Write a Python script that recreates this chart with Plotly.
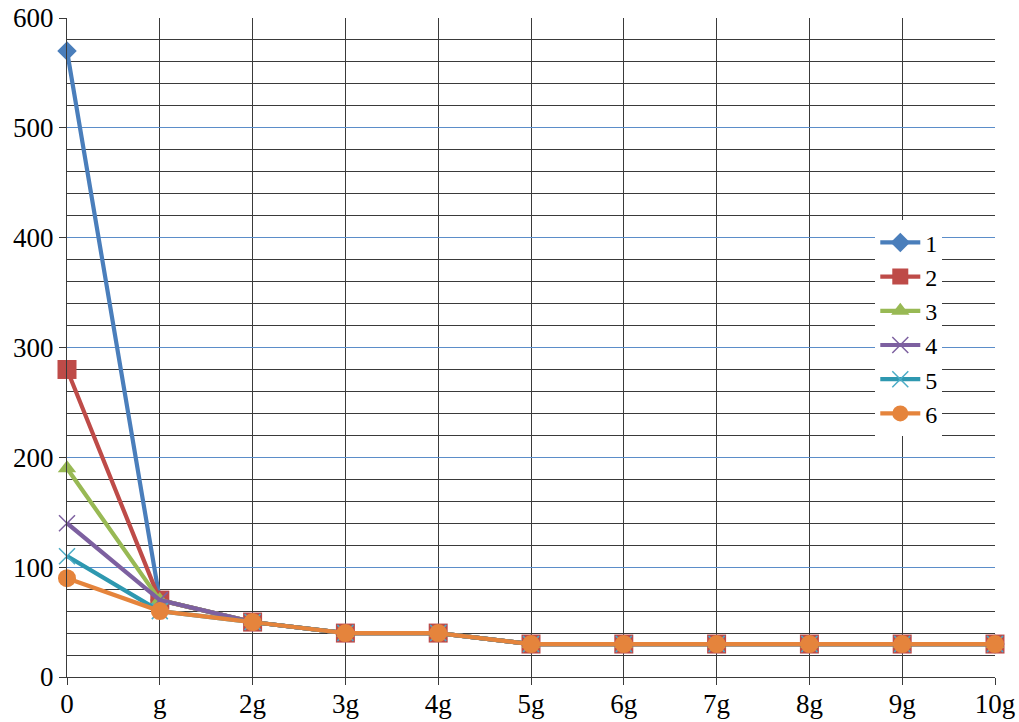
import plotly.graph_objects as go

# Category labels along the x axis
categories = ["0", "g", "2g", "3g", "4g", "5g", "6g", "7g", "8g", "9g", "10g"]

# Series values
s1 = [570, 70, 50, 40, 40, 30, 30, 30, 30, 30, 30]
s2 = [280, 70, 50, 40, 40, 30, 30, 30, 30, 30, 30]
s3 = [190, 70, 50, 40, 40, 30, 30, 30, 30, 30, 30]
s4 = [140, 70, 50, 40, 40, 30, 30, 30, 30, 30, 30]
s5 = [110, 60, 50, 40, 40, 30, 30, 30, 30, 30, 30]
s6 = [90, 60, 50, 40, 40, 30, 30, 30, 30, 30, 30]

series_names = ["1", "2", "3", "4", "5", "6"]
series_values = [s1, s2, s3, s4, s5, s6]

line_colors = ["#4A7EBB", "#BE4B48", "#98B954", "#7D60A0", "#2E98B0", "#E5843C"]
marker_colors = ["#4A7EBB", "#BE4B48", "#98B954", "#7D60A0", "#4BACC6", "#E5843C"]
symbols = ["diamond", "square", "triangle-up", "x-thin", "x-thin", "circle"]
sizes = [15, 19, 16, 16, 16, 18]

FONT = "Liberation Serif"

fig = go.Figure()
for name, vals, lc, mc, sym, sz in zip(series_names, series_values, line_colors,
                                       marker_colors, symbols, sizes):
    marker = dict(symbol=sym, size=sz, color=mc)
    if sym == "x-thin":
        marker["line"] = dict(color=mc, width=1.5)
    fig.add_trace(go.Scatter(
        x=categories, y=vals, name=name, mode="lines+markers",
        line=dict(color=lc, width=4.2),
        marker=marker,
        cliponaxis=False,
    ))

fig.update_layout(
    width=1019, height=722,
    margin=dict(l=67, r=24, t=18, b=45),
    paper_bgcolor="white", plot_bgcolor="white",
    font=dict(family=FONT, size=27, color="black"),
    showlegend=True,
    legend=dict(
        x=0.871, y=0.693, xanchor="left", yanchor="top",
        bgcolor="white", borderwidth=0,
        font=dict(family=FONT, size=24, color="black"),
        itemwidth=40,
        tracegroupgap=0,
    ),
    xaxis=dict(
        type="category", categoryorder="array", categoryarray=categories,
        range=[0, 10], automargin=False,
        showgrid=True, gridcolor="#3A3A3A", gridwidth=1,
        showline=True, linecolor="#3A3A3A", linewidth=1,
        ticks="outside", ticklen=7, tickcolor="#3A3A3A",
        ticklabelstandoff=-4,
        tickfont=dict(family=FONT, size=27, color="black"),
        zeroline=False,
    ),
    yaxis=dict(
        range=[0, 600], dtick=100, automargin=False,
        showgrid=True, gridcolor="#5B8DC9", gridwidth=1,
        minor=dict(dtick=20, showgrid=True, gridcolor="#3A3A3A", gridwidth=1),
        showline=True, linecolor="#3A3A3A", linewidth=1,
        ticks="outside", ticklen=7, tickcolor="#3A3A3A",
        tickfont=dict(family=FONT, size=27, color="black"),
        zeroline=False,
    ),
)

fig.write_html("out.html")
